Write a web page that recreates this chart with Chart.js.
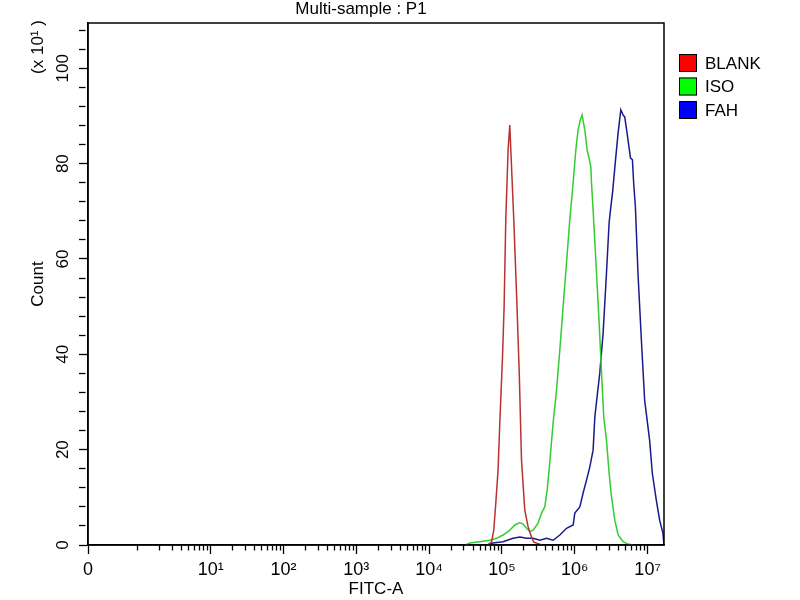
<!DOCTYPE html>
<html lang="en">
<head>
  <meta charset="UTF-8">
  <title>Multi-sample : P1</title>
  <script src="https://cdn.jsdelivr.net/npm/chart.js"></script>
  <style>
    body { margin: 0; background: #fff; }
    .chart-container { position: relative; width: 800px; height: 600px; }
  </style>
</head>
<body>
  <div class="chart-container">
    <canvas id="histChart"></canvas>
  </div>
  <script>
    const chartTitle = 'Multi-sample : P1';
    const yUnit = '(x 10¹ )';

    // FITC-A axis is log, its left edge is labelled "0", right edge is 2^24 - 1
    const xMin = 0.2065;
    const xMax = 16777215;
    const decades = [1, 2, 3, 4, 5, 6, 7];
    const decadeLabels = ['10¹', '10²', '10³', '10⁴', '10⁵', '10⁶', '10⁷'];

    // Count axis, in units of 10
    const yMax = 109.5;
    const yStep = 4;
    const yLabelStep = 20;

    const seriesNames = ['BLANK', 'ISO', 'FAH'];
    const lineColors = ['#b83232', '#33cc33', '#1a1a8c'];
    const boxColors = ['#ff0000', '#00ff00', '#0000ff'];

    // histogram outlines, positions are log10(FITC-A)
    const blankLog = [4.80, 4.856, 4.887, 4.915, 4.946, 4.970, 5.007, 5.029, 5.052, 5.084, 5.107,
      5.121, 5.162, 5.203, 5.237, 5.268, 5.313, 5.359, 5.405, 5.437, 5.55];
    const blankCount = [0, 0.6, 3.1, 8.8, 15.7, 25.6, 39.5, 49.9, 68.2, 82.9, 88.1,
      82.9, 68.2, 51.4, 36.1, 17.8, 7.3, 3.8, 1.7, 0.6, 0];

    const isoLog = [4.50, 4.558, 4.695, 4.832, 4.924, 5.015, 5.107, 5.176, 5.245, 5.290, 5.337,
      5.382, 5.427, 5.496, 5.543, 5.588, 5.620, 5.647, 5.702, 5.749, 5.794, 5.839, 5.886,
      5.931, 5.977, 6.014, 6.045, 6.076, 6.100, 6.137, 6.169, 6.206, 6.220, 6.229, 6.251,
      6.298, 6.334, 6.367, 6.398, 6.435, 6.471, 6.504, 6.549, 6.595, 6.663, 6.728, 6.80];
    const isoCount = [0, 0.4, 0.7, 1.0, 1.4, 2.1, 3.1, 4.2, 4.7, 4.4, 3.5,
      2.8, 3.1, 4.6, 6.7, 8.0, 11.5, 15.7, 25.6, 32.5, 40.9, 49.9, 59.2,
      68.2, 76.0, 82.9, 87.1, 89.2, 90.2, 87.1, 82.9, 80.4, 79.3, 76.0, 70.3,
      57.1, 46.6, 36.1, 26.7, 22.0, 15.1, 10.1, 5.2, 2.1, 0.7, 0.2, 0];

    const fahLog = [4.80, 4.878, 5.015, 5.152, 5.245, 5.337, 5.427, 5.519, 5.611, 5.702, 5.794,
      5.886, 5.977, 6.000, 6.069, 6.114, 6.161, 6.206, 6.251, 6.275, 6.343, 6.389, 6.435,
      6.471, 6.490, 6.518, 6.559, 6.595, 6.632, 6.663, 6.685, 6.717, 6.764, 6.791, 6.808,
      6.832, 6.867, 6.914, 6.959, 7.027, 7.064, 7.119, 7.165, 7.188, 7.210, 7.2247];
    const fahCount = [0, 0.4, 0.7, 1.4, 1.7, 1.4, 1.4, 1.0, 1.4, 1.0, 2.1,
      3.5, 4.2, 6.7, 8.0, 10.9, 13.6, 16.4, 19.9, 26.9, 36.1, 44.5, 57.1,
      67.6, 70.3, 73.9, 80.8, 86.5, 91.3, 90.2, 89.8, 86.5, 81.2, 80.8, 76.0,
      70.9, 57.1, 43.0, 30.4, 22.0, 15.1, 9.4, 5.2, 3.8, 2.5, 0];

    const toPoints = (logs, counts) => logs.map((l, i) => ({ x: Math.pow(10, l), y: counts[i] }));
    const seriesData = [toPoints(blankLog, blankCount), toPoints(isoLog, isoCount), toPoints(fahLog, fahCount)];

    Chart.defaults.font.family = '"Liberation Sans", Arial, sans-serif';
    Chart.defaults.font.size = 17;
    Chart.defaults.color = '#000';

    const decadeIndex = (v) => decades.findIndex(d => Math.abs(v - Math.pow(10, d)) < 1e-6 * Math.pow(10, d));
    const isMajorX = (v) => v === xMin || decadeIndex(v) >= 0;

    // frame, title, unit note and the legend boxes at the right
    const decor = {
      id: 'decor',
      afterDraw(chart) {
        const { ctx, chartArea: a } = chart;
        ctx.save();
        ctx.strokeStyle = '#000';
        ctx.lineWidth = 1.5;
        ctx.strokeRect(a.left, a.top, a.right - a.left, a.bottom - a.top);

        ctx.fillStyle = '#000';
        ctx.font = '17px "Liberation Sans", Arial, sans-serif';
        ctx.textAlign = 'center';
        ctx.textBaseline = 'alphabetic';
        ctx.fillText(chartTitle, 361, 14);

        ctx.save();
        ctx.translate(38, a.top + 24);
        ctx.rotate(-Math.PI / 2);
        ctx.textBaseline = 'middle';
        ctx.fillText(yUnit, 0, 0);
        ctx.restore();

        chart.data.datasets.forEach((ds, i) => {
          const cy = a.top + 40 + i * 23.5;
          ctx.fillStyle = boxColors[i];
          ctx.fillRect(a.right + 15, cy - 9, 18, 18);
          ctx.strokeStyle = '#000';
          ctx.lineWidth = 1;
          ctx.strokeRect(a.right + 15.5, cy - 8.5, 17, 17);
          ctx.fillStyle = '#000';
          ctx.textAlign = 'left';
          ctx.textBaseline = 'middle';
          ctx.fillText(ds.label, a.right + 41, cy + 1);
        });
        ctx.restore();
      }
    };

    const chart = new Chart(document.getElementById('histChart'), {
      type: 'line',
      data: {
        datasets: seriesNames.map((name, i) => ({
          label: name,
          data: seriesData[i],
          borderColor: lineColors[i],
          borderWidth: 1.5,
          pointRadius: 0,
          tension: 0,
          fill: false
        }))
      },
      options: {
        responsive: true,
        maintainAspectRatio: false,
        animation: false,
        layout: { padding: { left: 24, right: 136, top: 23, bottom: 0 } },
        plugins: {
          legend: { display: false },
          title: { display: false },
          tooltip: { enabled: false }
        },
        scales: {
          x: {
            type: 'logarithmic',
            min: xMin,
            max: xMax,
            afterBuildTicks: (scale) => {
              const ticks = [{ value: xMin }];
              for (let e = 0; e <= 6; e++) {
                for (let k = 1; k <= 9; k++) ticks.push({ value: k * Math.pow(10, e) });
              }
              ticks.push({ value: Math.pow(10, 7) });
              scale.ticks = ticks;
            },
            afterFit: (scale) => { scale.height = 55; },
            border: { display: true, color: '#000', width: 1.5 },
            grid: {
              drawOnChartArea: false,
              drawTicks: true,
              tickLength: 9,
              tickColor: '#000',
              tickWidth: 1.3,
              tickBorderDash: (ctx) => isMajorX(ctx.tick.value) ? [] : [5, 30]
            },
            ticks: {
              autoSkip: false,
              maxRotation: 0,
              minRotation: 0,
              padding: 5,
              font: { size: 18 },
              callback: (value) => {
                if (value === xMin) return '0';
                const i = decadeIndex(value);
                return i >= 0 ? decadeLabels[i] : '';
              }
            },
            title: { display: true, text: 'FITC-A', padding: { top: 0, bottom: 0 } }
          },
          y: {
            min: 0,
            max: yMax,
            afterFit: (scale) => { scale.width = 64; },
            border: { display: true, color: '#000', width: 1.5 },
            grid: {
              drawOnChartArea: false,
              drawTicks: true,
              tickLength: 9,
              tickColor: '#000',
              tickWidth: 1.3,
              tickBorderDash: (ctx) => ctx.tick.value % yLabelStep === 0 ? [] : [6.5, 30]
            },
            ticks: {
              stepSize: yStep,
              includeBounds: false,
              autoSkip: false,
              minRotation: 90,
              maxRotation: 90,
              crossAlign: 'center',
              padding: 1.5,
              callback: (value) => value % yLabelStep === 0 ? String(value) : ''
            },
            title: { display: true, text: 'Count', padding: { top: 4, bottom: 0 } }
          }
        }
      },
      plugins: [decor]
    });
  </script>
</body>
</html>
